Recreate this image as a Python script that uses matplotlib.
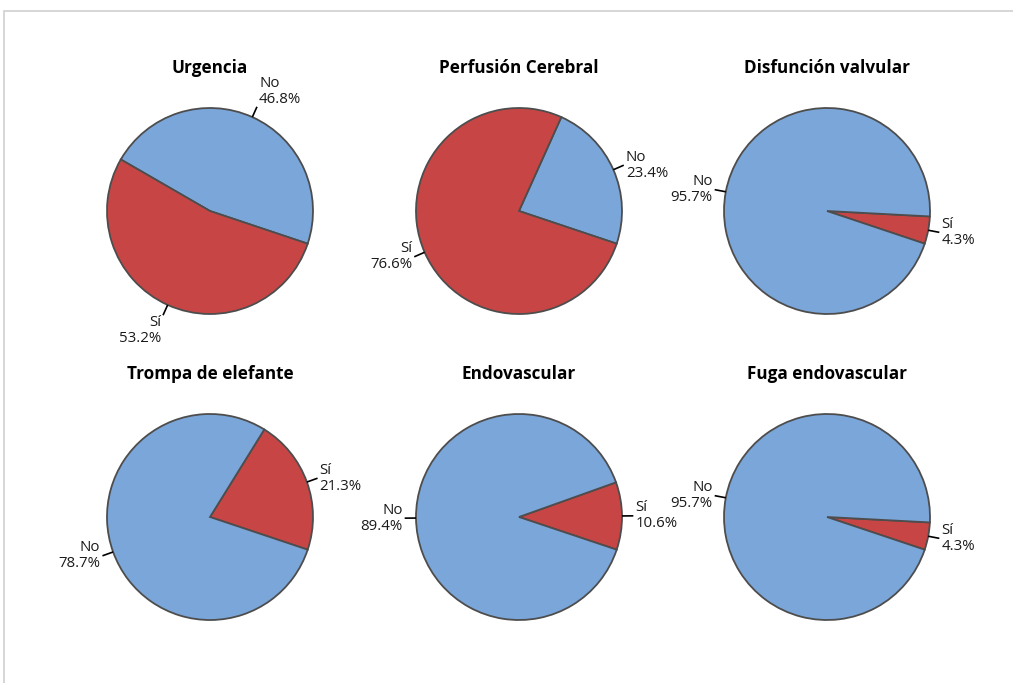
import numpy as np
import matplotlib.pyplot as plt
from matplotlib.patches import Rectangle

plt.rcParams['font.family'] = ['Open Sans', 'DejaVu Sans']

# data
titles = ['Urgencia', 'Perfusión Cerebral', 'Disfunción valvular',
          'Trompa de elefante', 'Endovascular', 'Fuga endovascular']
categories = ['No', 'Sí']
no_pct = [46.8, 23.4, 95.7, 78.7, 89.4, 95.7]
si_pct = [53.2, 76.6, 4.3, 21.3, 10.6, 4.3]

colors = {'No': '#7BA6D9', 'Sí': '#C74645'}
edge = '#4d4d4d'

W, H = 1013, 683
fig = plt.figure(figsize=(W / 100, H / 100), dpi=100)

# light frame (only top/left visible in the original)
fig.patches.append(Rectangle((4 / W, -0.1), 1.2, 1 - 11 / H + 0.1,
                             transform=fig.transFigure, fill=False,
                             edgecolor='#d0d0d0', linewidth=1.2))

cxs = [210, 519, 827]
cys = [211, 517]
title_y = [68, 374]
R = 103      # pie radius in pixels
half = 160   # half size of each axes in pixels
lim = half / R

for i, title in enumerate(titles):
    row, col = divmod(i, 3)
    cx, cy = cxs[col], cys[row]
    ax = fig.add_axes([(cx - half) / W, (H - cy - half) / H, 2 * half / W, 2 * half / H])

    vals = [no_pct[i], si_pct[i]]
    order = np.argsort(vals)  # smaller slice first, counterclockwise
    v = [vals[k] for k in order]
    cats = [categories[k] for k in order]
    wedges, _ = ax.pie(v, colors=[colors[c] for c in cats], startangle=-18.5,
                       counterclock=True, radius=1,
                       wedgeprops=dict(edgecolor=edge, linewidth=1.3))
    ax.set_xlim(-lim, lim)
    ax.set_ylim(-lim, lim)
    ax.set_aspect('equal')
    ax.axis('off')

    for w, c, val in zip(wedges, cats, v):
        th = np.deg2rad((w.theta1 + w.theta2) / 2)
        ca, sa = np.cos(th), np.sin(th)
        p1 = (ca, sa)
        p2 = (1.11 * ca, 1.11 * sa)
        ax.plot([p1[0], p2[0]], [p1[1], p2[1]], color='black', lw=1.2,
                solid_capstyle='butt')
        ha = 'left' if ca >= 0 else 'right'
        if sa > 0.75:
            va = 'bottom'
        elif sa < -0.75:
            va = 'top'
        else:
            va = 'center'
        tx = p2[0] + (0.02 if ca >= 0 else -0.02)
        ax.text(tx, p2[1], f'{c}\n{val:.1f}%', ha=ha, va=va, fontsize=10.8,
                linespacing=1.1, color='#1a1a1a')

    fig.text(cx / W, 1 - title_y[row] / H, title, ha='center', va='center',
             fontsize=12.3, fontweight='bold', color='black')

fig.savefig('out.png', dpi=100, facecolor='white')
